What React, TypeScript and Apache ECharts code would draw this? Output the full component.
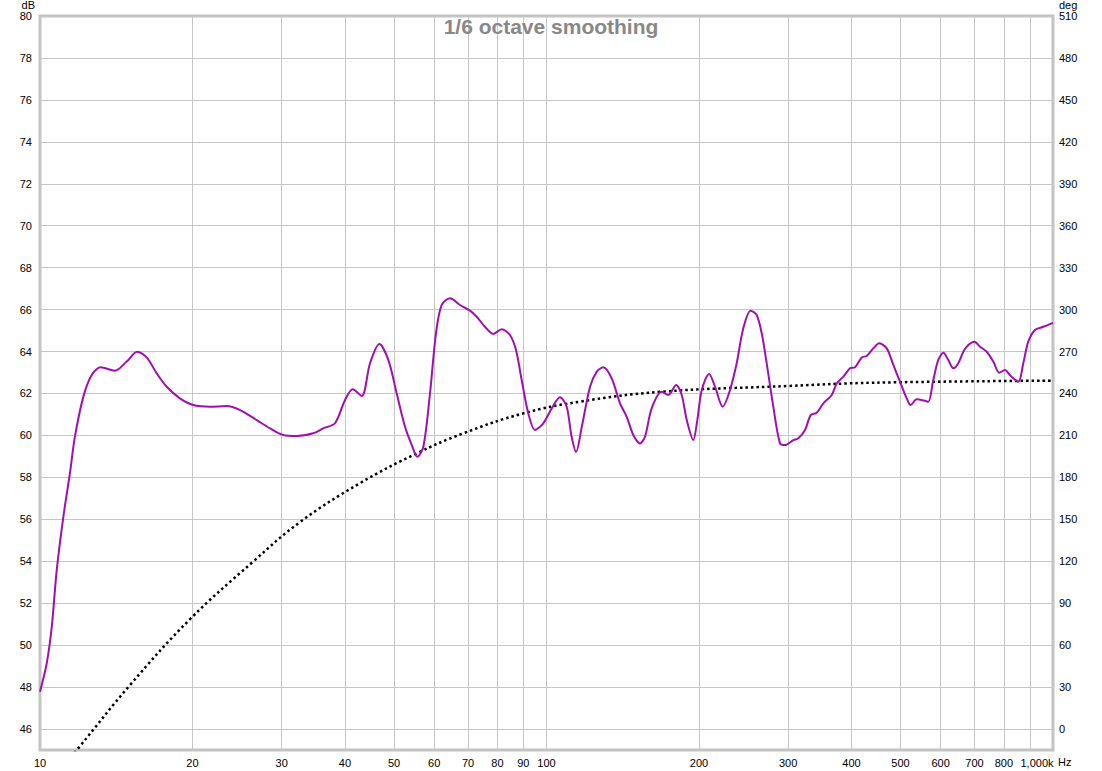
import React, { useEffect, useRef } from "react";
import * as echarts from "echarts";

// SPL trace (1/6 octave smoothing)
const freqHz = [
  10.0, 10.31, 10.55, 10.79, 11.12, 11.46, 11.72, 12.18, 12.65, 13.18, 14.06, 14.83, 15.56, 16.24, 17.0, 17.79,
  18.89, 20.08, 21.66, 23.37, 24.83, 26.78, 28.45, 30.22, 32.13, 34.64, 36.25, 38.23, 40.02, 41.44, 43.17, 44.83,
  46.77, 48.72, 50.61, 52.56, 54.2, 55.59, 57.13, 58.88, 60.5, 62.1, 64.5, 67.48, 70.63, 72.81, 75.6, 78.52,
  81.55, 84.7, 87.05, 89.33, 92.06, 94.91, 98.56, 102.4, 106.3, 109.6, 112.1, 114.4, 117.4, 121.9, 125.7, 129.5,
  134.5, 139.7, 144.0, 148.4, 153.0, 156.5, 161.3, 168.9, 174.0, 180.3, 184.9, 189.2, 194.9, 198.5, 202.5, 209.4,
  215.2, 222.8, 230.3, 237.4, 244.6, 253.0, 260.0, 266.0, 272.1, 280.4, 289.1, 295.8, 307.2, 314.2, 323.9, 332.4,
  341.6, 352.0, 365.7, 374.1, 385.5, 397.4, 406.6, 419.2, 428.8, 441.8, 454.1, 469.6, 483.9, 498.8, 514.2, 523.6,
  538.1, 558.8, 567.3, 580.3, 593.6, 607.3, 621.3, 635.5, 650.2, 665.2, 680.5, 699.3, 717.7, 739.8, 762.3, 783.4,
  804.0, 825.1, 854.1, 873.6, 893.7, 921.4, 956.8, 1000,
];
const splDb = [
  47.78, 49.13, 50.88, 53.58, 56.12, 58.21, 59.94, 61.85, 62.88, 63.25, 63.09, 63.52, 63.99, 63.72, 62.96, 62.32,
  61.77, 61.45, 61.37, 61.4, 61.21, 60.73, 60.34, 60.02, 59.97, 60.1, 60.34, 60.58, 61.69, 62.2, 61.88, 63.44,
  64.36, 63.6, 62.0, 60.41, 59.54, 58.98, 59.46, 62.0, 64.87, 66.22, 66.54, 66.22, 65.95, 65.66, 65.18, 64.84,
  65.06, 64.79, 64.07, 62.64, 61.05, 60.26, 60.58, 61.29, 61.82, 61.37, 59.94, 59.22, 60.41, 62.32, 63.04, 63.25,
  62.72, 61.53, 60.89, 60.02, 59.62, 59.94, 61.29, 62.08, 61.93, 62.4, 61.93, 60.73, 59.78, 60.73, 62.16, 62.93,
  62.32, 61.37, 62.16, 63.44, 65.1, 65.95, 65.74, 64.87, 63.44, 61.37, 59.62, 59.54, 59.78, 59.86, 60.26, 60.97,
  61.08, 61.53, 61.93, 62.48, 62.8, 63.2, 63.25, 63.72, 63.79, 64.15, 64.39, 64.15, 63.36, 62.56, 61.77, 61.45,
  61.72, 61.65, 61.6, 62.64, 63.6, 63.94, 63.6, 63.2, 63.44, 63.99, 64.31, 64.47, 64.23, 63.99, 63.52, 62.99,
  63.12, 62.83, 62.56, 63.44, 64.47, 65.03, 65.18, 65.37,
];

// Phase trace (dotted, right axis)
const phaseFreqHz = [11.5, 11.96, 15.06, 19.78, 26.34, 32.6, 42.8, 55.4, 68.5, 90.0, 116.5, 167.5, 302.6, 441.8, 1000];
const phaseDeg = [-20, -12.75, 31.5, 78.6, 119.7, 148.0, 175.8, 197.1, 211.5, 225.8, 234.2, 241.2, 245.4, 247.7, 249.2];

// Axis ticks
const xGridHz = [10, 20, 30, 40, 50, 60, 70, 80, 90, 100, 200, 300, 400, 500, 600, 700, 800, 900, 1000];
const xLabelHz = [10, 20, 30, 40, 50, 60, 70, 80, 90, 100, 200, 300, 400, 500, 600, 700, 800, 1000];
const dbTicks = [46, 48, 50, 52, 54, 56, 58, 60, 62, 64, 66, 68, 70, 72, 74, 76, 78, 80];
const degTicks = [0, 30, 60, 90, 120, 150, 180, 210, 240, 270, 300, 330, 360, 390, 420, 450, 480, 510];

const FONT = "'Liberation Sans', Arial, sans-serif";

export default function App() {
  const ref = useRef<HTMLDivElement>(null);

  useEffect(() => {
    document.body.style.margin = "0";
    if (!ref.current) return;
    const chart = echarts.init(ref.current, undefined, { renderer: "svg" });

    const splData = freqHz.map((f, i) => [Math.log10(f), splDb[i]]);
    const phaseData = phaseFreqHz.map((f, i) => [Math.log10(f), phaseDeg[i]]);

    const fmtHz = (v: number) => {
      const hz = Math.round(Math.pow(10, v));
      if (hz === 1000) return "{r|1,000k}";
      return String(hz);
    };

    chart.setOption({
      animation: false,
      backgroundColor: "#ffffff",
      title: {
        text: "1/6 octave smoothing",
        left: "center",
        top: 11,
        textStyle: { fontFamily: FONT, fontSize: 21, fontWeight: "bold", color: "#888888" },
      },
      grid: {
        left: 40,
        right: 49,
        top: 16,
        bottom: 21,
        show: true,
        borderColor: "#c2c2c2",
        borderWidth: 3,
        backgroundColor: "#ffffff",
        outerBoundsMode: "none",
      },
      xAxis: {
        type: "value",
        min: 1,
        max: 3,
        axisLine: { show: false },
        axisTick: { show: false, customValues: xGridHz.map((h) => Math.log10(h)) },
        splitLine: { show: true, lineStyle: { color: "#c6c6c6", width: 1 } },
        axisLabel: {
          customValues: xLabelHz.map((h) => Math.log10(h)),
          formatter: fmtHz,
          margin: 7,
          fontFamily: FONT,
          fontSize: 11,
          color: "#000",
          hideOverlap: false,
          rich: {
            r: { fontFamily: FONT, fontSize: 11, color: "#000", padding: [0, 32, 0, 0] },
          },
        },
      },
      yAxis: [
        {
          type: "value",
          min: 45,
          max: 80,
          name: "dB",
          nameLocation: "end",
          nameGap: 3,
          nameTextStyle: { fontFamily: FONT, fontSize: 11, color: "#000", align: "right", padding: [0, 5, 0, 0] },
          axisLine: { show: false },
          axisTick: { show: false, customValues: dbTicks },
          splitLine: { show: true, lineStyle: { color: "#c6c6c6", width: 1 } },
          axisLabel: { customValues: dbTicks, margin: 8, fontFamily: FONT, fontSize: 11, color: "#000" },
        },
        {
          type: "value",
          min: -15,
          max: 510,
          position: "right",
          name: "deg",
          nameLocation: "end",
          nameGap: 3,
          nameTextStyle: { fontFamily: FONT, fontSize: 11, color: "#000", align: "left", padding: [0, 0, 0, 6] },
          axisLine: { show: false },
          axisTick: { show: false, customValues: degTicks },
          splitLine: { show: false },
          axisLabel: { customValues: degTicks, margin: 6, fontFamily: FONT, fontSize: 11, color: "#000" },
        },
      ],
      graphic: [
        {
          type: "text",
          left: 1058,
          top: 756,
          style: { text: "Hz", fontFamily: FONT, fontSize: 11, fill: "#000" },
        },
      ],
      series: [
        {
          name: "Phase",
          type: "line",
          yAxisIndex: 1,
          data: phaseData,
          smooth: 0.4,
          showSymbol: false,
          symbol: "none",
          clip: true,
          lineStyle: { color: "#000000", width: 2.5, type: [2.5, 3] },
          z: 2,
        },
        {
          name: "SPL",
          type: "line",
          yAxisIndex: 0,
          data: splData,
          smooth: 0.3,
          showSymbol: false,
          symbol: "none",
          clip: true,
          lineStyle: { color: "#a010b0", width: 2 },
          z: 3,
        },
      ],
    });

    return () => {
      chart.dispose();
    };
  }, []);

  return <div ref={ref} style={{ width: 1102, height: 771 }} />;
}
